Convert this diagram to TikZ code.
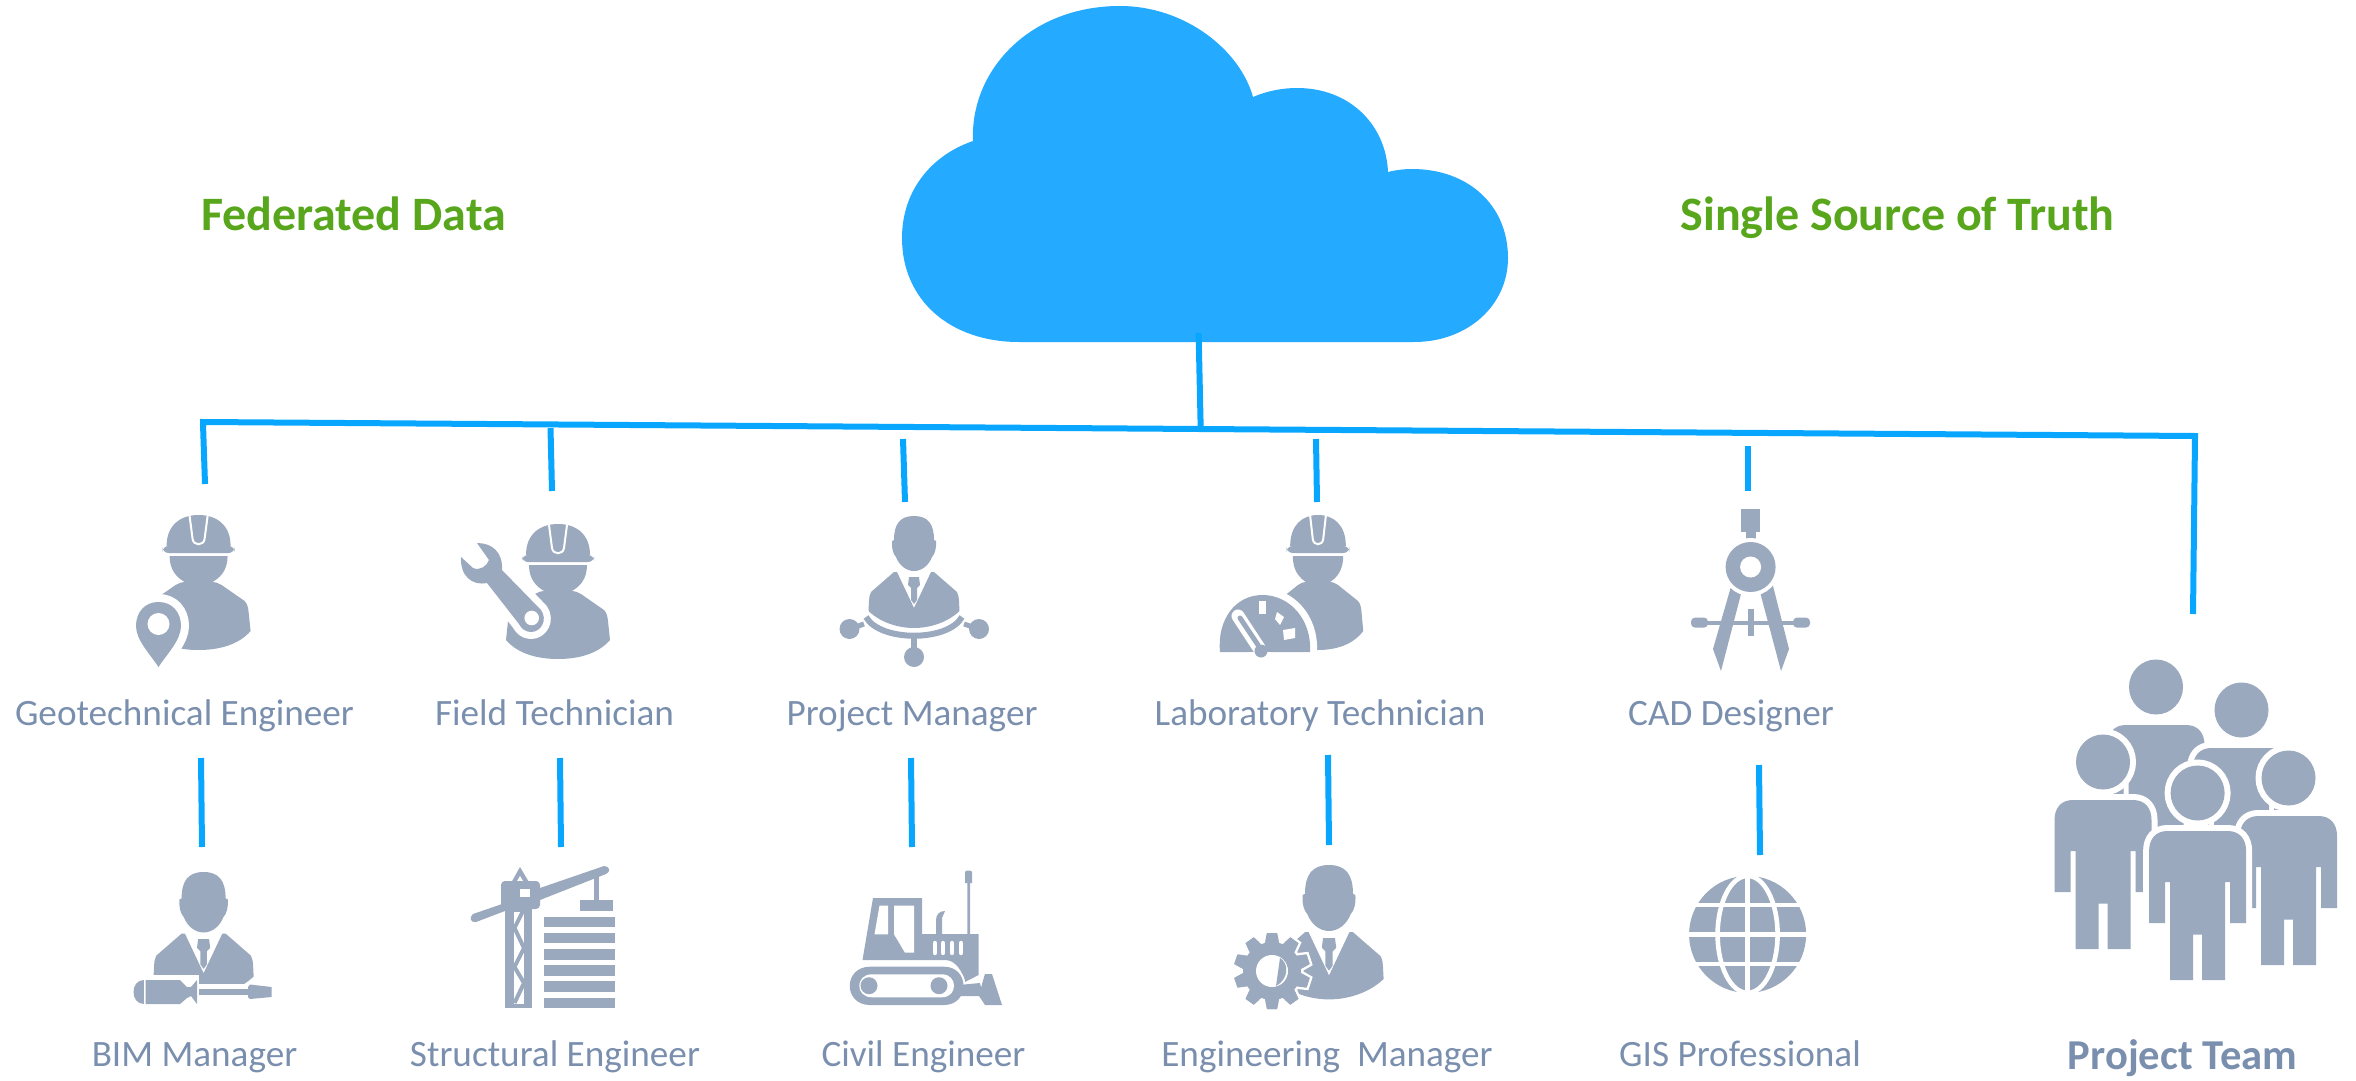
\documentclass[tikz,border=0pt]{standalone}
\usepackage{fontspec}
\setmainfont{Carlito}
\definecolor{icon}{HTML}{9BA9BE}
\definecolor{roletext}{HTML}{7A8FAE}
\definecolor{lead}{HTML}{08A6FF}
\definecolor{cloudblue}{HTML}{24AAFF}
\definecolor{headgreen}{HTML}{57A61B}
\tikzset{
  lead line/.style={draw=lead,line width=3pt},
  role/.style={anchor=base,inner sep=0pt,text=roletext,font=\fontsize{18.6}{20}\selectfont},
  heading/.style={anchor=base,inner sep=0pt,text=headgreen,font=\fontsize{24}{26}\selectfont\bfseries},
  teamlabel/.style={anchor=base,inner sep=0pt,text=roletext,font=\fontsize{21.3}{23}\selectfont\bfseries},
  ink/.style={fill=icon},
  halo/.style={fill=icon,preaction={draw=white,line width=#1,line join=round}},
  halo/.default=6pt,
  gap/.style={fill=white}
}
\newcommand{\WorkerIcon}[3]{%
\begin{scope}[shift={(#1,#2)},xscale=#3]
 \fill[ink] (-32,31) .. controls (-32,10) and (-18,0) .. (0,0) .. controls (18,0) and (32,10) .. (32,31) -- cycle;
 \draw[white,line width=1pt] (-9,1) -- (-6,24) .. controls (-5,31) and (5,31) .. (6,24) -- (9,1);
 \fill[ink,rounded corners=3pt] (-36,31) rectangle (36,38);
 \fill[ink] (-29,41) -- (29,41) .. controls (29,55) and (22,63) .. (12,68) -- (-12,68) .. controls (-22,63) and (-29,55) .. (-29,41) -- cycle;
 \fill[ink] (-12,67) -- (12,67) .. controls (17,67) and (20,68) .. (23,70) -- (46,86) .. controls (49,89) and (49.5,93) .. (50,97) -- (52,116)
   .. controls (40,130) and (20,135) .. (0,135) .. controls (-20,135) and (-40,130) .. (-52,116) -- (-50,97) .. controls (-49.5,93) and (-49,89) .. (-46,86) -- (-23,70) .. controls (-20,68) and (-17,67) .. (-12,67) -- cycle;
\end{scope}}
\newcommand{\SuitHead}{%
 \fill[ink] (-20,24) .. controls (-20,8) and (-14,0) .. (0,0) .. controls (14,0) and (20,8) .. (20,24) -- (22,25) .. controls (22.5,32) and (21,38) .. (18,41) .. controls (15,49) and (8,55) .. (0,55) .. controls (-8,55) and (-15,49) .. (-18,41) .. controls (-21,38) and (-22.5,32) .. (-22,25) -- cycle;
 \fill[ink] (-5,61) -- (5,61) -- (6,69) -- (3,72) -- (3,84) -- (0,88) -- (-3,84) -- (-3,72) -- (-6,69) -- cycle;}
\newcommand{\SuitBody}{%
 \fill[ink] (-20,56) -- (-43,76) .. controls (-44.5,79) and (-45,82) .. (-45,85) -- (-45.5,95) .. controls (-33,107) and (-15,112) .. (0,112) .. controls (15,112) and (33,107) .. (45.5,95) -- (45,85) .. controls (45,82) and (44.5,79) .. (43,76) -- (20,56) -- (17,56) -- (0,92) -- (-17,56) -- cycle;}
\newcommand{\TeamMember}[2]{%
\begin{scope}[shift={(#1,#2)}]
 \path[halo] (0,0) ellipse (27 and 27.5);
 \path[halo] (-48.5,58) .. controls (-48.5,46) and (-42,38) .. (-30,38) -- (30,38) .. controls (42,38) and (48.5,46) .. (48.5,58) -- (48.5,130) -- (32.5,130) -- (32.5,89) -- (27.5,89) -- (27.5,187) -- (4.5,187) -- (4.5,141.5) -- (-4.5,141.5) -- (-4.5,187) -- (-27.5,187) -- (-27.5,89) -- (-32.5,89) -- (-32.5,130) -- (-48.5,130) -- cycle;
\end{scope}}
\begin{document}
\begin{tikzpicture}[x=0.5pt,y=-0.5pt]
\useasboundingbox (0,0) rectangle (2356,1081);
% cloud
\path[fill=cloudblue] (1019,342) .. controls (950,342) and (902,300) .. (902,238) .. controls (902,190) and (932,155) .. (973,141) .. controls (970,70) and (1030,6) .. (1120,6) .. controls (1185,6) and (1240,50) .. (1253,97) .. controls (1267,91) and (1282,88) .. (1297,88) .. controls (1350,88) and (1386,125) .. (1388,172) .. controls (1396,170) and (1404,169) .. (1412,169) .. controls (1468,169) and (1508,205) .. (1508,258) .. controls (1508,305) and (1468,342) .. (1414,342) -- cycle;
% connector ends
\coordinate (cloudfoot) at (1198.6,333);
\coordinate (busmid) at (1200.7,429);
\coordinate (busleft) at (203,422);
\coordinate (busright) at (2195,436);
\coordinate (geoTop) at (205,484);
\coordinate (teamTop) at (2193,614);
\foreach \nm/\xa/\ya/\xb/\yb in {a/550.5/428/552/491,b/903/439/905/502,c/1316/439/1317/502,d/1748/446/1748/491,e/201/758/202/847,f/560/758/561/847,g/911/758/912/847,h/1328/755/1329/845,i/1759/765/1760/855}{
  \coordinate (\nm1) at (\xa,\ya);
  \coordinate (\nm2) at (\xb,\yb);
  \draw[lead line] (\nm1) -- (\nm2);
}
\draw[lead line] (cloudfoot) -- (busmid);
\draw[lead line] (geoTop) -- (busleft |- 0,424) -- (busleft) -- (busright) -- (teamTop);
% headings
\node[heading] (federated) at (353.5,230) {Federated Data};
\node[heading] (sourcetruth) at (1897.5,230) {Single Source of Truth};
% labels
\node[role] (geo) at (184.5,725) {Geotechnical Engineer};
\node[role] (field) at (554.5,725) {Field Technician};
\node[role] (pm) at (912,725) {Project Manager};
\node[role] (lab) at (1320,725) {Laboratory Technician};
\node[role] (cad) at (1731,725) {CAD Designer};
\node[role] (bim) at (194.5,1066) {BIM Manager};
\node[role] (struct) at (555,1066) {Structural Engineer};
\node[role] (civil) at (923.5,1066) {Civil Engineer};
\node[role] (eng) at (1327,1066) {Engineering\ \ Manager};
\node[role] (gis) at (1740,1066) {GIS Professional};
\node[teamlabel] (team) at (2182.5,1069) {Project Team};
% ---- geotechnical
\WorkerIcon{198.6}{515}{1}
\path[halo=8pt] (158.5,602) .. controls (172,602) and (181,612) .. (181,626) .. controls (181,640) and (167,654) .. (158.5,667) .. controls (150,654) and (136,640) .. (136,626) .. controls (136,612) and (145,602) .. (158.5,602) -- cycle;
\fill[gap] (158.5,624) circle (11);
% ---- field technician
\WorkerIcon{558}{524}{1}
\path[halo=7pt] (477,543) .. controls (492,543) and (503,552) .. (502,570) -- (541,610) .. controls (548,620) and (541,632) .. (531,632) .. controls (525,632) and (521,628) .. (519,624) -- (487,583) .. controls (472,586) and (460,576) .. (461,557) -- (473,568) .. controls (480,571) and (487,566) .. (489,560) -- cycle;
\fill[gap] (531.7,618) circle (7.3);
% ---- project manager
\begin{scope}[shift={(914,516)}]
 \SuitHead \SuitBody
 \draw[icon,line width=3pt] (-48,101) .. controls (-34,126) and (34,126) .. (48,101);
 \draw[icon,line width=2.5pt] (-50,108) -- (-64.5,113);
 \draw[icon,line width=2.5pt] (50,108) -- (65,113);
 \draw[icon,line width=3pt] (0,120) -- (0,140);
 \fill[ink] (-64.5,113) ellipse (10 and 10);
 \fill[ink] (65,113) ellipse (10 and 10);
 \fill[ink] (0,141) ellipse (10 and 10);
\end{scope}
% ---- lab technician
\WorkerIcon{1318}{515}{0.87}
\path[halo=7pt] (1220,652) .. controls (1217,620) and (1235,595) .. (1262.5,595) .. controls (1290,595) and (1312,620) .. (1310,652) -- cycle;
\fill[gap] (1258.5,601) rectangle (1265.5,614);
\fill[gap] (1277,612) -- (1284,617) -- (1280,625) -- (1275,619) -- cycle;
\fill[gap] (1283,630) -- (1295,628) -- (1295,638) -- (1284,640) -- cycle;
\draw[white,line width=6.5pt,line cap=round] (1238,616) -- (1259,648);
\draw[icon,line width=2.5pt,line cap=round] (1240,618) -- (1258,645);
\fill[gap] (1249,652) rectangle (1271,660);
\fill[ink] (1261,651) circle (6.5);
% ---- CAD designer
\fill[ink] (1741,509) rectangle (1760,532);
\fill[ink] (1745.5,532) rectangle (1755.5,540);
\fill[ink] (1698,620.5) rectangle (1803,624.7);
\fill[ink,rounded corners=2pt] (1691,617.6) rectangle (1708,627.6);
\fill[ink,rounded corners=2pt] (1793,617.6) rectangle (1810,627.6);
\fill[ink] (1747.7,608.5) rectangle (1753.7,636);
\fill[ink] (1732,583) -- (1741.5,592) -- (1721,671) -- (1713,649) -- cycle;
\fill[ink] (1772,582) -- (1760,592) -- (1781,671) -- (1789,649) -- cycle;
\path[halo=4pt] (1750.6,567) circle (25);
\fill[gap] (1750.6,567) circle (10.5);
% ---- BIM manager
\begin{scope}[shift={(203.6,872)},scale=1.1]
 \SuitHead \SuitBody
\end{scope}
\fill[gap] (130,975) rectangle (199,1012);
\fill[gap] (199,984) rectangle (280,1012);
\fill[ink] (145.5,980) -- (180,980) -- (187,987) -- (191,987) -- (197,980) -- (197,1004) -- (191,996) -- (187,998) -- (180,1004) -- (145.5,1004) -- cycle;
\fill[ink] (144,980) -- (144,1004) .. controls (130,1004) and (130,980) .. (144,980) -- cycle;
\fill[ink] (198.6,989) rectangle (248.6,995);
\fill[ink] (248,987) -- (250,984.5) -- (271.5,987) -- (271.5,997) -- (250,999) -- (248,997) -- cycle;
% ---- crane
\fill[ink] (505,908) rectangle (532,1008);
\fill[gap] (514,912) rectangle (524,1004);
\draw[icon,line width=2pt,line join=bevel] (524,909) -- (514.5,928) -- (524,948) -- (514.5,967) -- (524,983) -- (514.5,1003);
\fill[ink] (473,914) -- (505,903) -- (505,911) -- (476,922) .. controls (470,923) and (469,917) .. (473,914) -- cycle;
\fill[ink] (540,888) -- (604,866) .. controls (610,866) and (611,872) .. (606,874) -- (540,900) -- cycle;
\fill[ink] (520,867) -- (529.5,883) -- (511,883) -- cycle;
\fill[gap] (520,876) -- (523,881) -- (517,881) -- cycle;
\fill[ink,rounded corners=2pt] (501,881) rectangle (540,909);
\fill[gap] (520,889) rectangle (530,897);
\fill[ink] (593.5,875) rectangle (598.5,900);
\fill[ink] (580,900) rectangle (613.4,910.7);
\foreach \yy in {916.7,932.7,949,965.3,981.3,997.7}{\fill[ink] (544,\yy) rectangle (615,\yy+10.6);}
% ---- bulldozer
\fill[ink] (862.5,960) -- (873,898) -- (922,898) -- (922,934) -- (978.6,934) -- (978.6,975) -- (965,982) .. controls (962,970) and (955,960) .. (945,960) -- cycle;
\fill[gap] (879.5,905.7) -- (888,905.7) -- (888,934.3) -- (874.5,934.3) -- cycle;
\fill[gap] (894,905.7) -- (914,905.7) -- (914,952.7) -- (905,952.7) -- (894,934.3) -- cycle;
\foreach \vx in {935,943,952,961}{\draw[white,line width=2.2pt,line cap=round] (\vx,943) -- (\vx,953);}
\fill[ink] (936,934) -- (936,920) .. controls (936,914) and (940,911) .. (945,911) -- (942,918) -- (942,934) -- cycle;
\fill[ink] (965,872) .. controls (965,870) and (972,870) .. (972,872) -- (972,883) -- (970,883) -- (970,934) -- (967.4,934) -- (967.4,883) -- (965,883) -- cycle;
\path[halo=2pt] (870,966.7) -- (944,966.7) .. controls (970,966.7) and (970,1005) .. (944,1005) -- (870,1005) .. controls (843,1005) and (843,966.7) .. (870,966.7) -- cycle;
\fill[gap] (872,974.3) -- (942,974.3) .. controls (958,974.3) and (958,997.3) .. (942,997.3) -- (872,997.3) .. controls (855,997.3) and (855,974.3) .. (872,974.3) -- cycle;
\fill[ink] (869,985.7) circle (8.5);
\fill[ink] (939,985.7) circle (8.5);
\fill[ink] (959,985) -- (980,983) -- (983,996) -- (955,996) -- cycle;
\fill[ink] (985,974) -- (992,974) -- (1002,1005) -- (985,1005) -- (979,996) .. controls (981,988) and (983,980) .. (985,974) -- cycle;
% ---- engineering manager
\begin{scope}[shift={(1329,865)},scale=1.2]
 \SuitHead \SuitBody
\end{scope}
\begin{scope}[shift={(1272,971)}]
 \foreach \a in {0,36,...,324}{\fill[ink,rotate=\a,preaction={draw=white,line width=2.5pt}] (-5,-38) -- (5,-38) -- (7.5,-26) -- (-7.5,-26) -- cycle;}
 \path[halo=2.5pt] (0,0) circle (29);
 \foreach \a in {0,36,...,324}{\fill[ink,rotate=\a] (-5,-38) -- (5,-38) -- (7.5,-26) -- (-7.5,-26) -- cycle;}
 \fill[gap] (0,0) circle (16);
 \fill[ink] (8,-13) .. controls (17,-8) and (17,8) .. (4,15) -- cycle;
\end{scope}
% ---- globe
\begin{scope}[shift={(1747.6,934.4)}]
 \fill[ink] (0,0) circle (58.5);
 \draw[white,line width=2.3pt] (0,0) ellipse (30 and 58.5);
 \draw[white,line width=2.3pt] (0,-58.5) -- (0,58.5);
 \draw[white,line width=2.3pt] (-60,0) -- (60,0);
 \draw[white,line width=2.3pt] (-60,-29.4) -- (60,-29.4);
 \draw[white,line width=2.3pt] (-60,29.6) -- (60,29.6);
\end{scope}
% ---- team
\TeamMember{2156}{687}
\TeamMember{2241.5}{710}
\TeamMember{2103}{762}
\TeamMember{2288.5}{778}
\TeamMember{2197.6}{793}
\end{tikzpicture}
\end{document}
